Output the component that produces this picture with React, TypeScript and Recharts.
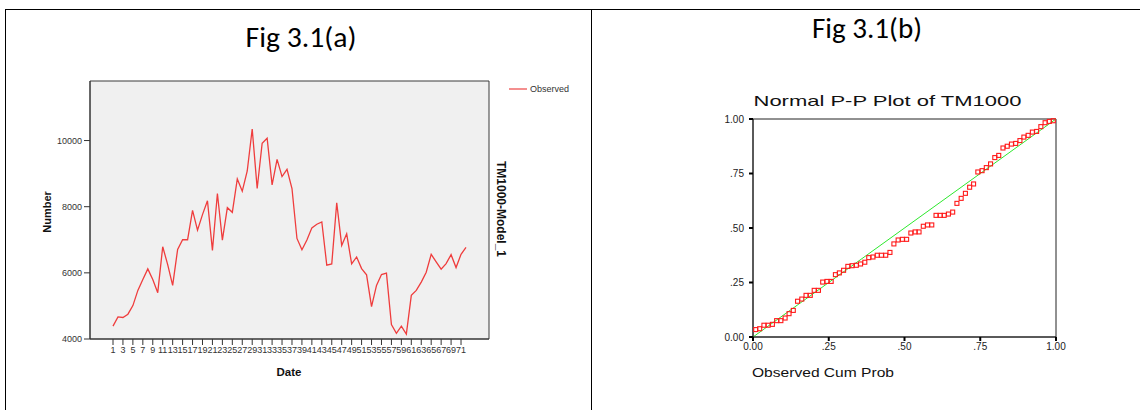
import {
  LineChart,
  Line,
  ScatterChart,
  Scatter,
  XAxis,
  YAxis,
  CartesianGrid,
  Legend,
  ReferenceLine,
} from 'recharts'

const SANS = '"Liberation Sans", Arial, sans-serif'
const TITLE_FONT = 'Carlito, "Liberation Sans Narrow", "Liberation Sans", sans-serif'

// TM1000 observed counts, one per date index
const dates = [
  1, 2, 3, 4, 5, 6, 7, 8, 9, 10, 11, 12, 13, 14, 15, 16, 17, 18, 19, 20, 21, 22, 23, 24,
  25, 26, 27, 28, 29, 30, 31, 32, 33, 34, 35, 36, 37, 38, 39, 40, 41, 42, 43, 44, 45, 46, 47, 48,
  49, 50, 51, 52, 53, 54, 55, 56, 57, 58, 59, 60, 61, 62, 63, 64, 65, 66, 67, 68, 69, 70, 71, 72,
]
const observed = [
  4390, 4670, 4650, 4750, 5010, 5470, 5800, 6120, 5800, 5400,
  6790, 6250, 5620, 6710, 7000, 7000, 7890, 7290, 7760, 8180,
  6680, 8400, 6990, 7970, 7830, 8840, 8470, 9080, 10350, 8550,
  9920, 10070, 8660, 9430, 8910, 9130, 8550, 7040, 6700, 6990,
  7360, 7470, 7540, 6230, 6270, 8120, 6830, 7180, 6270, 6480,
  6130, 5940, 4980, 5620, 5950, 5990, 4440, 4170, 4390, 4150,
  5320, 5470, 5720, 6020, 6560, 6330, 6110, 6280, 6550, 6160, 6560, 6770,
]
const numberTicks = [4000, 6000, 8000, 10000]

// Normal P-P plot: observed vs expected cumulative probability
const ppObserved = [
  0.009, 0.022, 0.036, 0.050, 0.064, 0.078, 0.092, 0.106, 0.119, 0.133, 0.147, 0.161,
  0.175, 0.189, 0.202, 0.216, 0.230, 0.244, 0.258, 0.272, 0.285, 0.299, 0.313, 0.327,
  0.341, 0.355, 0.369, 0.382, 0.396, 0.410, 0.424, 0.438, 0.452, 0.465, 0.479, 0.493,
  0.507, 0.521, 0.535, 0.548, 0.562, 0.576, 0.590, 0.604, 0.618, 0.631, 0.645, 0.659,
  0.673, 0.687, 0.701, 0.715, 0.728, 0.742, 0.756, 0.770, 0.784, 0.798, 0.811, 0.825,
  0.839, 0.853, 0.867, 0.881, 0.894, 0.908, 0.922, 0.936, 0.950, 0.964, 0.978, 0.991,
]
const ppExpected = [
  0.034, 0.038, 0.054, 0.054, 0.058, 0.075, 0.075, 0.087, 0.107, 0.122, 0.164, 0.174,
  0.191, 0.191, 0.214, 0.214, 0.252, 0.255, 0.255, 0.286, 0.294, 0.306, 0.324, 0.327,
  0.329, 0.335, 0.343, 0.364, 0.367, 0.375, 0.375, 0.375, 0.388, 0.427, 0.445, 0.448,
  0.448, 0.477, 0.482, 0.482, 0.508, 0.514, 0.514, 0.558, 0.558, 0.558, 0.564, 0.573,
  0.613, 0.636, 0.659, 0.687, 0.702, 0.757, 0.763, 0.777, 0.794, 0.823, 0.833, 0.867,
  0.875, 0.885, 0.888, 0.901, 0.917, 0.925, 0.940, 0.943, 0.965, 0.983, 0.989, 0.992,
]
const probTicks = [0, 0.25, 0.5, 0.75, 1]
const probTickLabels = ['0.00', '.25', '.50', '.75', '1.00']

const seriesData = dates.map((date, i) => ({ date, observed: observed[i] }))
const ppData = ppObserved.map((x, i) => ({ x, y: ppExpected[i] }))

const formatProb = (v: number) => probTickLabels[probTicks.indexOf(v)] ?? String(v)

// grid lines only on the plot edges -> a closed frame around the plot
const frameRows = ({ offset }: any) => [offset.top, offset.top + offset.height]
const frameCols = ({ offset }: any) => [offset.left, offset.left + offset.width]

function SeriesLegend() {
  return (
    <svg width={80} height={14}>
      <line x1={1} y1={7} x2={19} y2={7} stroke="#f06a6a" strokeWidth={1.5} />
      <text x={22} y={7} dominantBaseline="central" fontSize={9} fontFamily={SANS} fill="#333">
        Observed
      </text>
    </svg>
  )
}

function HollowSquare({ cx, cy }: { cx?: number; cy?: number }) {
  if (cx == null || cy == null) return null
  return (
    <rect x={cx - 2} y={cy - 2} width={4} height={4} fill="none" stroke="#ff1a1a" strokeWidth={1.1} />
  )
}

export default function App() {
  return (
    <div
      style={{
        position: 'absolute',
        left: 0,
        top: 0,
        width: 1140,
        height: 410,
        background: '#fff',
        overflow: 'hidden',
      }}
    >
      {/* table rules */}
      <div style={{ position: 'absolute', left: 5, top: 9, width: 1135, height: 1, background: '#000' }} />
      <div style={{ position: 'absolute', left: 5, top: 9, width: 1, height: 401, background: '#000' }} />
      <div style={{ position: 'absolute', left: 591, top: 9, width: 1, height: 401, background: '#000' }} />

      <div style={{ position: 'absolute', left: 0, top: 0 }}>
        <LineChart width={591} height={410} data={seriesData} margin={{ top: 81, right: 102, bottom: 41, left: 0 }}>
          <CartesianGrid
            fill="#f0f0f0"
            stroke="#3a3a3a"
            strokeDasharray=""
            horizontalCoordinatesGenerator={frameRows}
            verticalCoordinatesGenerator={frameCols}
          />
          <XAxis
            dataKey="date"
            type="category"
            interval={1}
            padding={{ left: 23, right: 23 }}
            height={30}
            tickSize={6}
            tickMargin={2}
            stroke="#333"
            tick={{ fontSize: 9, fill: '#333', fontFamily: SANS }}
          />
          <YAxis
            type="number"
            domain={[4000, 11800]}
            ticks={numberTicks}
            width={90}
            tickSize={6}
            tickMargin={2}
            stroke="#333"
            tick={{ fontSize: 9, fill: '#333', fontFamily: SANS }}
          />
          {/* middle/center alignment keeps the legend out of the plot offset */}
          <Legend
            layout="horizontal"
            align="center"
            verticalAlign="middle"
            content={<SeriesLegend />}
            wrapperStyle={{ top: 82, left: 508, width: 80 }}
          />
          <Line
            dataKey="observed"
            name="Observed"
            stroke="#ef3d3d"
            strokeWidth={1.3}
            dot={false}
            isAnimationActive={false}
          />
        </LineChart>
      </div>

      <div style={{ position: 'absolute', left: 591, top: 0 }}>
        <ScatterChart width={549} height={410} margin={{ top: 119, right: 84, bottom: 48, left: 0 }}>
          <CartesianGrid
            fill="#fff"
            stroke="#222"
            strokeDasharray=""
            horizontalCoordinatesGenerator={frameRows}
            verticalCoordinatesGenerator={frameCols}
          />
          <XAxis
            type="number"
            dataKey="x"
            domain={[0, 1]}
            ticks={probTicks}
            tickFormatter={formatProb}
            height={25}
            tickSize={4}
            tickMargin={2}
            stroke="#222"
            tickLine={{ stroke: '#000', strokeWidth: 2 }}
            tick={{ fontSize: 10, fill: '#222', fontFamily: SANS }}
          />
          <YAxis
            type="number"
            dataKey="y"
            domain={[0, 1]}
            ticks={probTicks}
            tickFormatter={formatProb}
            width={162}
            tickSize={4}
            tickMargin={5}
            stroke="#222"
            tickLine={{ stroke: '#000', strokeWidth: 2 }}
            tick={{ fontSize: 10, fill: '#222', fontFamily: SANS }}
          />
          <ReferenceLine
            segment={[
              { x: 0, y: 0 },
              { x: 1, y: 1 },
            ]}
            stroke="#2ee82e"
            strokeWidth={1}
          />
          <Scatter data={ppData} shape={<HollowSquare />} isAnimationActive={false} />
        </ScatterChart>
      </div>

      {/* titles and axis captions */}
      <svg
        width={1140}
        height={410}
        style={{ position: 'absolute', left: 0, top: 0, pointerEvents: 'none' }}
      >
        <text x={301} y={47} textAnchor="middle" fontSize={28} fontFamily={TITLE_FONT} textLength={111} lengthAdjust="spacingAndGlyphs">
          Fig 3.1(a)
        </text>
        <text x={867} y={38} textAnchor="middle" fontSize={28} fontFamily={TITLE_FONT} textLength={110} lengthAdjust="spacingAndGlyphs">
          Fig 3.1(b)
        </text>
        <text
          x={47}
          y={212}
          transform="rotate(-90 47 212)"
          textAnchor="middle"
          dominantBaseline="central"
          fontSize={11}
          fontWeight="bold"
          fontFamily={SANS}
          fill="#111"
        >
          Number
        </text>
        <text x={289} y={372} textAnchor="middle" dominantBaseline="central" fontSize={11.5} fontWeight="bold" fontFamily={SANS} fill="#111">
          Date
        </text>
        <text
          x={501}
          y={209}
          transform="rotate(90 501 209)"
          textAnchor="middle"
          dominantBaseline="central"
          fontSize={12}
          fontWeight="bold"
          fontFamily={SANS}
          fill="#111"
        >
          TM1000-Model_1
        </text>
        <text x={887.5} y={100} textAnchor="middle" dominantBaseline="central" fontSize={15} fontFamily={SANS} fill="#111" textLength={268} lengthAdjust="spacingAndGlyphs">
          Normal P-P Plot of TM1000
        </text>
        <text x={752} y={373} dominantBaseline="central" fontSize={12.5} fontFamily={SANS} fill="#111" textLength={142} lengthAdjust="spacingAndGlyphs">
          Observed Cum Prob
        </text>
      </svg>
    </div>
  )
}
